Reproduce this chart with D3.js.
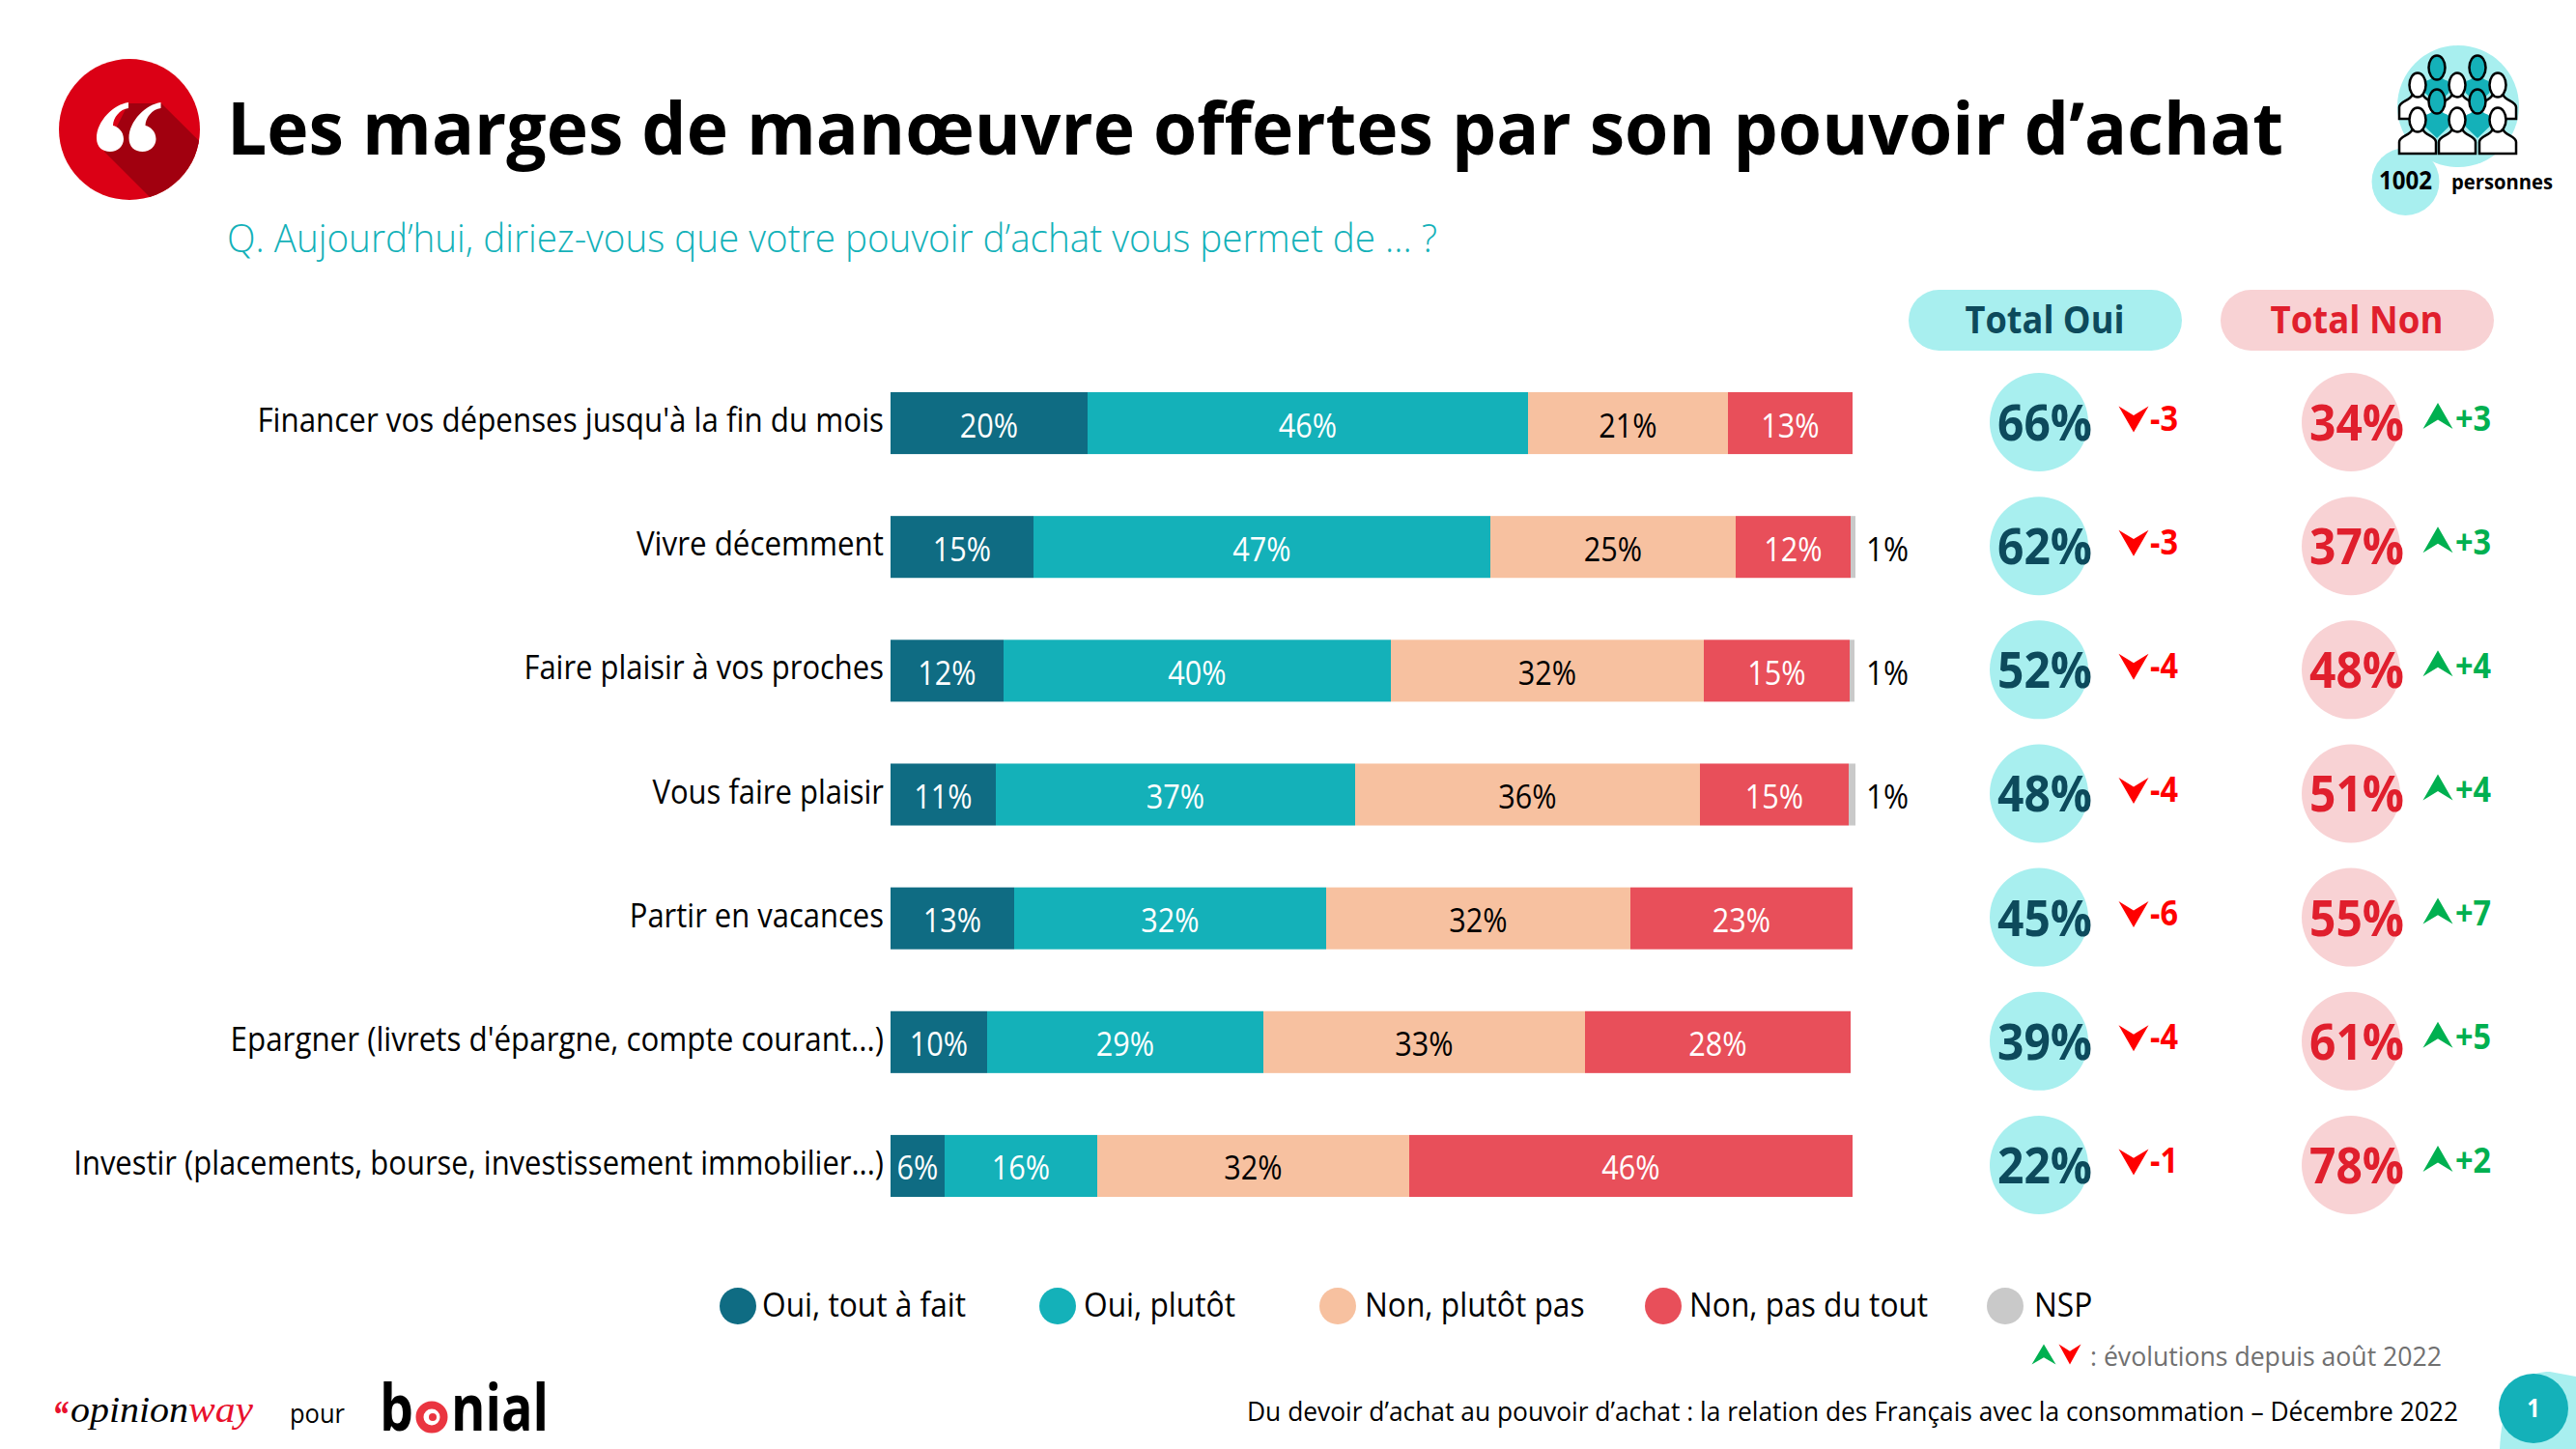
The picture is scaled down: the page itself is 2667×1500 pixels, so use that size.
<!DOCTYPE html>
<html>
<head>
<meta charset="utf-8">
<script src="https://cdn.jsdelivr.net/npm/d3@7"></script>
<style>
  body { margin: 0; background: #fff; }
  text { font-family: "Open Sans", "Noto Sans", sans-serif; }
</style>
</head>
<body>
<div id="chart"></div>
<script>
var categories = [
    "Financer vos dépenses jusqu'à la fin du mois",
    "Vivre décemment",
    "Faire plaisir à vos proches",
    "Vous faire plaisir",
    "Partir en vacances",
    "Epargner (livrets d'épargne, compte courant...)",
    "Investir (placements, bourse, investissement immobilier...)"
];
var seriesNames = ["Oui, tout à fait", "Oui, plutôt", "Non, plutôt pas", "Non, pas du tout", "NSP"];
var ouiToutAFait = [20.4, 14.8, 11.7, 10.9, 12.8, 10.0, 5.6];
var ouiPlutot = [45.6, 47.3, 40.1, 37.2, 32.3, 28.6, 15.8];
var nonPlutotPas = [20.7, 25.4, 32.4, 35.7, 31.5, 33.3, 32.3];
var nonPasDuTout = [12.9, 11.9, 15.1, 15.4, 23.0, 27.5, 45.9];
var nsp = [0, 0.5, 0.5, 0.7, 0, 0, 0];
var totalOui = [66, 62, 52, 48, 45, 39, 22];
var totalNon = [34, 37, 48, 51, 55, 61, 78];
var evolOui = [-3, -3, -4, -4, -6, -4, -1];
var evolNon = [3, 3, 4, 4, 7, 5, 2];

var colors = ["#0f6c83", "#14b1b9", "#f7c1a0", "#e84f5a", "#c9c9c9"];
var labelColors = ["#fff", "#fff", "#000", "#fff", "#000"];
var squeeze = 0.9; // la police d'origine est plus étroite
var categorySqueeze = [0.895, 0.895, 0.885, 0.885, 0.885, 0.895, 0.885];

var svg = d3.select("#chart").append("svg")
    .attr("width", 2667)
    .attr("height", 1500)
    .style("display", "block");

// Resserrer un texte horizontalement
function fit(sel, width, k) {
    sel.attr("lengthAdjust", "spacingAndGlyphs")
        .attr("textLength", function() {
            return width || this.getComputedTextLength() * (k || squeeze);
        });
    return sel;
}

function addText(str, x, y, size, weight, fill, anchor, width) {
    var t = svg.append("text")
        .attr("x", x).attr("y", y)
        .attr("font-size", size)
        .attr("font-weight", weight)
        .attr("fill", fill)
        .attr("text-anchor", anchor || "start")
        .text(str);
    return fit(t, width);
}

// Logo guillemets
var defs = svg.append("defs");
defs.append("clipPath").attr("id", "logoClip")
    .append("circle").attr("cx", 134).attr("cy", 134).attr("r", 73);
svg.append("circle").attr("cx", 134).attr("cy", 134).attr("r", 73).attr("fill", "#db0015");
svg.append("path")
    .attr("clip-path", "url(#logoClip)")
    .attr("d", "M108,157L240,289L299,238L167,107L133,107Z")
    .attr("fill", "#a1000f");
[0, 33.5].forEach(function(dx) {
    svg.append("path")
        .attr("transform", "translate(" + dx + ",0)")
        .attr("fill", "#fff")
        .attr("d", "M133,106C118,108 100,125 100,143C100,152 106,157 114,157C122,157 128,151 128,144C128,136 122,131 117,130C117,122 124,113 133,112Z");
});

addText("Les marges de manœuvre offertes par son pouvoir d’achat", 235, 160, 76, 700, "#000", "start", 2129);
addText("Q. Aujourd’hui, diriez-vous que votre pouvoir d’achat vous permet de ... ?", 235, 261, 40, 300, "#14b1b9", "start", 1253);

// Icône personnes
svg.append("circle").attr("cx", 2545).attr("cy", 110).attr("r", 63).attr("fill", "#a8efef");
svg.append("circle").attr("cx", 2490.5).attr("cy", 188).attr("r", 35).attr("fill", "#a8efef");
function personBack(px, py) {
    var g = svg.append("g").attr("transform", "translate(" + px + "," + py + ")").attr("fill", "#14b1b9");
    g.append("path").attr("d", "M-12.5,38L-12.5,28C-12.5,25 -6,25 -5,22L5,22C6,25 12.5,25 12.5,28L12.5,38L0,50Z");
    g.append("ellipse").attr("cx", 0).attr("cy", 12).attr("rx", 8.5).attr("ry", 12.5)
        .attr("stroke", "#000").attr("stroke-width", 2.5);
}
function personFront(px, py) {
    var g = svg.append("g").attr("transform", "translate(" + px + "," + py + ")")
        .attr("fill", "#fff").attr("stroke", "#000").attr("stroke-width", 2.5);
    g.append("path").attr("d", "M-19,47L-19,35C-19,29 -8,28 -6,23L6,23C8,28 19,29 19,35L19,47Z");
    g.append("ellipse").attr("cx", 0).attr("cy", 12).attr("rx", 8.5).attr("ry", 12.5);
}
[[2523, 58], [2565, 58]].forEach(function(p) { personBack(p[0], p[1]); });
[[2503, 76], [2544, 76], [2586, 76]].forEach(function(p) { personFront(p[0], p[1]); });
[[2523, 93], [2565, 93]].forEach(function(p) { personBack(p[0], p[1]); });
[[2503, 112], [2544, 112], [2586, 112]].forEach(function(p) { personFront(p[0], p[1]); });
addText("1002", 2490.5, 196, 26, 700, "#000", "middle", 55);
addText("personnes", 2538, 195.5, 22, 700, "#000", "start", 105);

// Barres empilées
var table = categories.map(function(c, i) {
    return { category: c, a: ouiToutAFait[i], b: ouiPlutot[i], c: nonPlutotPas[i], d: nonPasDuTout[i], e: nsp[i] };
});
var keys = ["a", "b", "c", "d", "e"];
var stacked = d3.stack().keys(keys)(table);

var x = d3.scaleLinear().domain([0, 100]).range([922, 1922]);
var y = d3.scaleBand().domain(categories).range([406, 1239]).paddingInner(0.5).paddingOuter(0);

var layers = svg.selectAll("g.layer")
    .data(stacked)
    .enter()
    .append("g")
    .attr("class", "layer")
    .attr("fill", function(d, i) { return colors[i]; });

layers.selectAll("rect")
    .data(function(d) { return d.filter(function(s) { return s[1] > s[0]; }); })
    .enter()
    .append("rect")
    .attr("x", function(d) { return x(d[0]); })
    .attr("y", function(d) { return y(d.data.category); })
    .attr("width", function(d) { return x(d[1]) - x(d[0]); })
    .attr("height", y.bandwidth());

layers.filter(function(d, i) { return i < 4; }).each(function(d, i) {
    var lab = d3.select(this).selectAll("text")
        .data(d)
        .enter()
        .append("text")
        .attr("x", function(s) { return (x(s[0]) + x(s[1])) / 2; })
        .attr("y", function(s) { return y(s.data.category) + 46.5; })
        .attr("text-anchor", "middle")
        .attr("font-size", 34)
        .attr("fill", labelColors[i])
        .text(function(s) { return Math.round(s[1] - s[0]) + "%"; });
    fit(lab);
});

// Etiquettes NSP
fit(svg.append("g").selectAll("text")
    .data(table.filter(function(d) { return d.e > 0; }))
    .enter()
    .append("text")
    .attr("x", 1932)
    .attr("y", function(d) { return y(d.category) + 46.5; })
    .attr("font-size", 35)
    .attr("fill", "#000")
    .text(function(d) { return Math.round(d.e) + "%"; }));

// Catégories
var yAxis = d3.axisLeft(y).tickSize(0).tickPadding(0);
var axisG = svg.append("g").attr("transform", "translate(915,0)").call(yAxis);
axisG.select(".domain").remove();
axisG.selectAll("text")
    .attr("dy", null)
    .attr("y", 9)
    .attr("font-size", 35)
    .attr("fill", "#000");
axisG.attr("font-family", null).attr("font-size", null);
axisG.selectAll("text").each(function(d, i) {
    fit(d3.select(this), null, categorySqueeze[i]);
});

// Totaux
function arrow(dir, cx, cy, fill, w, h) {
    var d = dir > 0
        ? [[0, -h / 2], [w / 2, h / 2], [0, h * 0.15], [-w / 2, h / 2]]
        : [[0, h / 2], [w / 2, -h / 2], [0, -h * 0.15], [-w / 2, -h / 2]];
    svg.append("path")
        .attr("d", d3.line().x(function(p) { return cx + p[0]; }).y(function(p) { return cy + p[1]; }).curve(d3.curveLinearClosed)(d))
        .attr("fill", fill);
}

function totalColumn(name, nameWidth, values, evols, cx, pillX, textCx, fill, dark, evolColor, arrowX, evolX, arrowY) {
    svg.append("rect").attr("x", pillX).attr("y", 300).attr("width", 283).attr("height", 63)
        .attr("rx", 31.5).attr("fill", fill);
    addText(name, textCx, 344.5, 39, 700, dark, "middle", nameWidth);
    categories.forEach(function(c, i) {
        var cy = y(c) + 31;
        svg.append("circle").attr("cx", cx).attr("cy", cy).attr("r", 51).attr("fill", fill);
        addText(values[i] + "%", textCx, cy + 19, 52, 700, dark, "middle", 98);
        arrow(evols[i] > 0 ? 1 : -1, arrowX, cy + arrowY, evolColor, 31, 27);
        addText((evols[i] > 0 ? "+" : "") + evols[i], evolX, cy + 8.5, 36, 700, evolColor);
    });
}
totalColumn("Total Oui", 165, totalOui, evolOui, 2111, 1976, 2117, "#a8efef", "#0d4a5c", "#ff0000", 2209, 2226, -3);
totalColumn("Total Non", 179, totalNon, evolNon, 2434, 2299, 2440, "#f8d2d4", "#e01f2d", "#00b050", 2524, 2542, -6.5);

// Légende
var legendX = [764, 1095, 1385, 1722, 2076];
var legendTextX = [25, 27, 28, 27, 30];
var legend = svg.selectAll("g.legend")
    .data(seriesNames)
    .enter()
    .append("g")
    .attr("class", "legend")
    .attr("transform", function(d, i) { return "translate(" + legendX[i] + ",1352)"; });
legend.append("circle").attr("r", 19).attr("fill", function(d, i) { return colors[i]; });
fit(legend.append("text")
    .attr("x", function(d, i) { return legendTextX[i]; })
    .attr("y", 11)
    .attr("font-size", 35)
    .attr("fill", "#000")
    .text(function(d) { return d; }), null, 0.905);

// Note évolutions
arrow(1, 2116, 1402, "#00b050", 25, 21);
arrow(-1, 2143, 1402, "#ff0000", 23, 21);
addText(": évolutions depuis août 2022", 2164, 1414, 28, 400, "#707070", "start", 364);

// Pied de page
addText("Du devoir d’achat au pouvoir d’achat : la relation des Français avec la consommation – Décembre 2022", 1291, 1471, 28, 400, "#000", "start", 1254);
svg.append("path").attr("d", "M2588,1500C2590,1460 2600,1420 2640,1420L2667,1425L2667,1500Z").attr("fill", "#a8efef");
svg.append("circle").attr("cx", 2623).attr("cy", 1458).attr("r", 36).attr("fill", "#14b1b9");
addText("1", 2623, 1467, 26, 700, "#fff", "middle");

// Logos
function serifText(str, px, py, width, fill, size, weight) {
    addText(str, px, py, size, weight, fill, "start", width)
        .attr("font-style", "italic")
        .style("font-family", "'Liberation Serif'");
}
serifText("“", 54, 1478, 17, "#e8112d", 40, 700);
serifText("opinion", 73, 1472, 122, "#000", 38, 400);
serifText("way", 195, 1472, 67, "#e8112d", 38, 400);
addText("pour", 300, 1473, 28, 400, "#000", "start", 57);
addText("b", 393, 1481, 66, 700, "#000", "start", 35);
svg.append("circle").attr("cx", 447).attr("cy", 1467).attr("r", 12.5).attr("fill", "none").attr("stroke", "#ea3540").attr("stroke-width", 8);
svg.append("circle").attr("cx", 448).attr("cy", 1467).attr("r", 4).attr("fill", "#ea3540");
addText("nial", 467, 1481, 66, 700, "#000", "start", 101);
</script>
</body>
</html>
